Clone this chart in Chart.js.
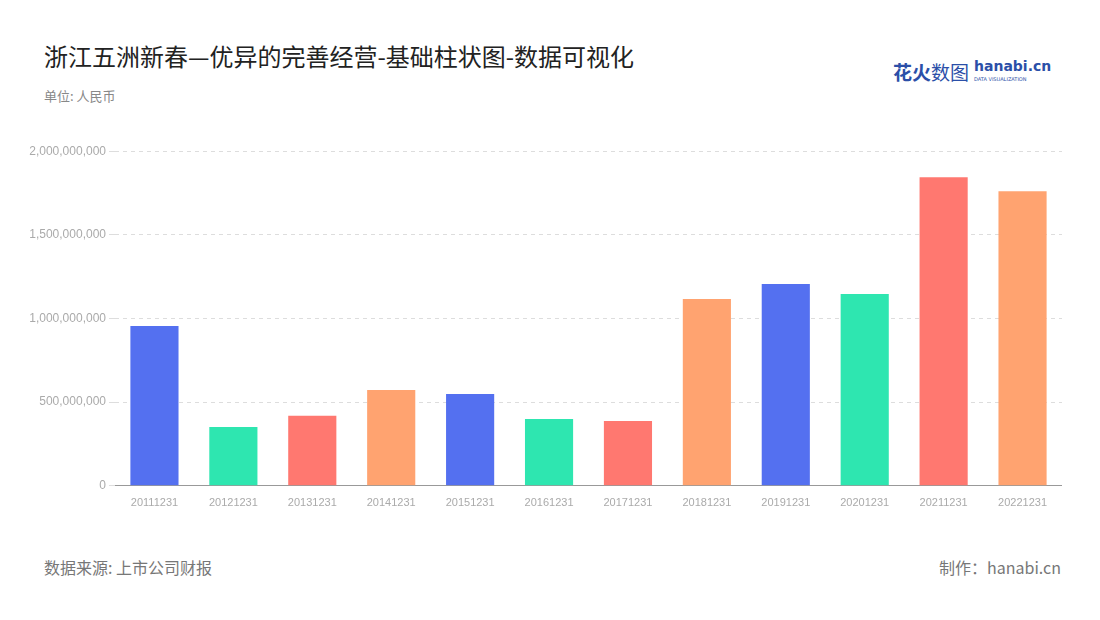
<!DOCTYPE html>
<html><head><meta charset="utf-8">
<script src="https://cdn.jsdelivr.net/npm/chart.js@4"></script>
<style>
body{margin:0;width:1100px;height:620px;background:#fff;font-family:"Noto Sans CJK SC","Noto Sans",sans-serif;position:relative;overflow:hidden}
.t{position:absolute;white-space:nowrap}
#wrap{position:absolute;left:0;top:141px;width:1062px;height:372px}
</style></head><body>
<div class="t" style="left:44px;top:38px;font-size:24px;color:#222">浙江五洲新春—优异的完善经营-基础柱状图-数据可视化</div>
<div class="t" style="left:44px;top:86px;font-size:13px;color:#888">单位: 人民币</div>
<div class="t" style="left:893px;top:58px;font-size:19px;font-weight:bold;color:#2b4fa8">花火<span style="font-weight:normal">数图</span></div>
<div class="t" style="left:974px;top:58px;font-size:14px;font-weight:bold;color:#2b4fa8;font-family:'DejaVu Sans'">hanabi.cn</div>
<div class="t" style="left:974px;top:76px;font-size:5px;color:#2b4fa8;font-family:'DejaVu Sans'">DATA VISUALIZATION</div>
<div class="t" style="left:44px;top:555px;font-size:16px;color:#777">数据来源: 上市公司财报</div>
<div class="t" style="right:39px;top:555px;font-size:16px;color:#777">制作：hanabi.cn</div>
<div id="wrap"><canvas id="c"></canvas></div>
<script>
const categories = ['20111231','20121231','20131231','20141231','20151231','20161231','20171231','20181231','20191231','20201231','20211231','20221231'];
const values = [955000000, 352000000, 418000000, 573000000, 549000000, 400000000, 388000000, 1116000000, 1206000000, 1146000000, 1845000000, 1761000000];
const palette = ['#5470f0', '#2ee6b0', '#ff7870', '#ffa370'];
new Chart(document.getElementById('c'), {
  type: 'bar',
  data: {
    labels: categories,
    datasets: [{ data: values, backgroundColor: values.map((v, i) => palette[i % 4]), categoryPercentage: 0.61, barPercentage: 1 }]
  },
  options: {
    responsive: true, maintainAspectRatio: false, animation: false,
    plugins: { legend: { display: false }, tooltip: { enabled: false } },
    scales: {
      x: { grid: { display: false }, border: { color: '#999' },
           ticks: { color: '#aaa', font: { size: 11 }, maxRotation: 0 } },
      y: { min: 0, max: 2000000000, border: { display: false },
           afterFit: s => { s.width = 115; },
           grid: { color: '#ddd', tickLength: 6, drawTicks: true },
           border: { display: false, dash: [4, 4] },
           ticks: { stepSize: 500000000, color: '#aaa', font: { size: 12 },
                    callback: v => v.toLocaleString('en-US') } }
    }
  }
});
</script>
</body></html>
